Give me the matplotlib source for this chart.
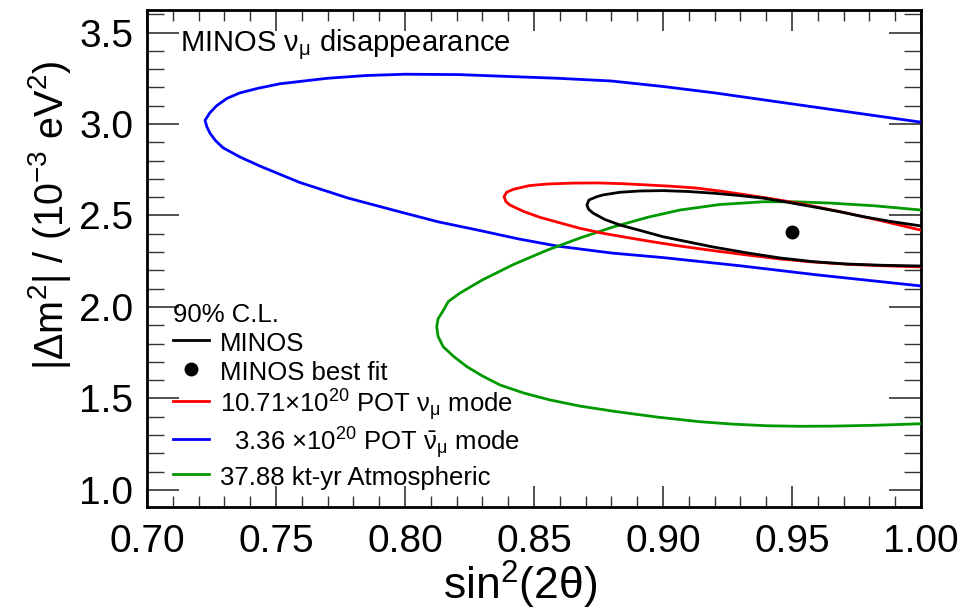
import numpy as np
import matplotlib
matplotlib.use("Agg")
import matplotlib.pyplot as plt
from matplotlib.ticker import MultipleLocator, FormatStrFormatter

plt.rcParams['font.family'] = ['Liberation Sans', 'DejaVu Sans']
plt.rcParams['mathtext.fontset'] = 'custom'
plt.rcParams['mathtext.rm'] = 'Liberation Sans'
plt.rcParams['mathtext.it'] = 'Liberation Sans:italic'
plt.rcParams['mathtext.bf'] = 'Liberation Sans:bold'

# 90% C.L. contours (sin^2(2theta), dm^2 in 1e-3 eV^2)
# each goes from the upper edge exit, round the tip, to the lower edge exit
minos_x = [1.0, 0.988, 0.9775, 0.968, 0.958, 0.948, 0.9388, 0.929, 0.9194, 0.910,
           0.900, 0.891, 0.8833, 0.877, 0.8744, 0.8713, 0.8705, 0.8712, 0.8729,
           0.8775, 0.8833, 0.892, 0.900, 0.910, 0.9194, 0.932, 0.9453, 0.958,
           0.971, 0.985, 1.0]
minos_y = [2.443, 2.468, 2.494, 2.522, 2.548, 2.573, 2.595, 2.61, 2.622, 2.631,
           2.636, 2.634, 2.627, 2.613, 2.603, 2.585, 2.557, 2.534, 2.513,
           2.478, 2.448, 2.415, 2.384, 2.355, 2.328, 2.297, 2.268, 2.248,
           2.235, 2.228, 2.224]

numu_x = [1.0, 0.985, 0.971, 0.961, 0.9519, 0.942, 0.9326, 0.923, 0.913, 0.903,
          0.8938, 0.884, 0.8744, 0.865, 0.855, 0.848, 0.842, 0.8394, 0.8384,
          0.8391, 0.8407, 0.846, 0.8523, 0.86, 0.8678, 0.877, 0.8872, 0.897,
          0.9066, 0.92, 0.9326, 0.945, 0.958, 0.972, 0.986, 1.0]
numu_y = [2.42, 2.47, 2.514, 2.543, 2.568, 2.592, 2.612, 2.632, 2.65, 2.66,
          2.667, 2.674, 2.678, 2.677, 2.672, 2.663, 2.643, 2.627, 2.603,
          2.576, 2.557, 2.522, 2.49, 2.46, 2.43, 2.402, 2.377, 2.354,
          2.333, 2.307, 2.284, 2.263, 2.246, 2.233, 2.225, 2.219]

nubar_x = [1.0, 0.98, 0.96, 0.94, 0.92, 0.90, 0.88, 0.859, 0.8395, 0.821, 0.80,
           0.785, 0.770, 0.7516, 0.743, 0.736, 0.731, 0.727, 0.7243, 0.7225,
           0.7232, 0.7244, 0.7265, 0.7295, 0.736, 0.7438, 0.7593, 0.778, 0.798,
           0.813, 0.829, 0.844, 0.859, 0.88, 0.90, 0.93, 0.96, 1.0]
nubar_y = [3.01, 3.05, 3.09, 3.13, 3.17, 3.205, 3.235, 3.25, 3.26, 3.27, 3.272,
           3.265, 3.25, 3.22, 3.195, 3.17, 3.14, 3.10, 3.06, 3.02,
           2.985, 2.95, 2.91, 2.87, 2.82, 2.77, 2.68, 2.595, 2.52,
           2.465, 2.418, 2.372, 2.333, 2.295, 2.27, 2.225, 2.175, 2.115]

atm_x = [1.0, 0.982, 0.9647, 0.951, 0.9388, 0.922, 0.9066, 0.894, 0.8806, 0.868,
         0.855, 0.842, 0.830, 0.8213, 0.8168, 0.8148, 0.8128, 0.8123, 0.8128,
         0.8148, 0.819, 0.824, 0.830, 0.8368, 0.846, 0.8562, 0.868, 0.882,
         0.898, 0.9143, 0.927, 0.9403, 0.953, 0.9659, 0.983, 1.0]
atm_y = [2.53, 2.553, 2.568, 2.575, 2.575, 2.56, 2.53, 2.49, 2.437, 2.378,
         2.31, 2.232, 2.148, 2.076, 2.03, 1.98, 1.935, 1.892, 1.84,
         1.783, 1.728, 1.674, 1.623, 1.574, 1.53, 1.492, 1.458, 1.428,
         1.398, 1.373, 1.36, 1.351, 1.348, 1.349, 1.354, 1.362]

best_x = [0.95]
best_y = [2.41]

labels = ["MINOS", "MINOS best fit",
          r"10.71$\times$10$^{20}$ POT ν$_\mathrm{μ}$ mode",
          r"  3.36 $\times$10$^{20}$ POT $\bar{\mathrm{ν}}_\mathrm{μ}$ mode",
          "37.88 kt-yr Atmospheric"]

fig = plt.figure(figsize=(9.63, 6.14), dpi=100)
ax = fig.add_axes([147 / 963, 107 / 614, 774 / 963, 497 / 614])

lw = 2.0
l_minos, = ax.plot(minos_x, minos_y, color='black', lw=lw, zorder=5)
l_numu, = ax.plot(numu_x, numu_y, color='#ff0000', lw=lw, zorder=4)
l_nubar, = ax.plot(nubar_x, nubar_y, color='#0000ff', lw=lw, zorder=3)
l_atm, = ax.plot(atm_x, atm_y, color='#009900', lw=lw, zorder=3)
l_best, = ax.plot(best_x, best_y, 'o', color='black', ms=9, zorder=6)

ax.set_xlim(0.70, 1.00)
ax.set_ylim(0.907, 3.623)

ax.xaxis.set_major_locator(MultipleLocator(0.05))
ax.xaxis.set_minor_locator(MultipleLocator(0.01))
ax.yaxis.set_major_locator(MultipleLocator(0.5))
ax.yaxis.set_minor_locator(MultipleLocator(0.1))
ax.xaxis.set_major_formatter(FormatStrFormatter('%.2f'))
ax.yaxis.set_major_formatter(FormatStrFormatter('%.1f'))

ax.tick_params(which='both', direction='in', top=True, right=True, color='#333333')
ax.tick_params(axis='x', which='major', length=15, width=1.2, labelsize=28, pad=12)
ax.tick_params(axis='x', which='minor', length=8, width=1.0)
ax.tick_params(axis='y', which='major', length=23, width=1.2, labelsize=28, pad=10)
ax.tick_params(axis='y', which='minor', length=12, width=1.0)
for s in ax.spines.values():
    s.set_linewidth(2.0)

ax.set_xlabel(r"sin$^{2}$(2θ)", fontsize=32, va='center', ha='center')
ax.xaxis.set_label_coords(0.482, -0.156)
ax.set_ylabel(r"|Δm$^{2}$| / (10$^{-3}$ eV$^{2}$)", fontsize=28.5, va='center', ha='center')
ax.yaxis.set_label_coords(-0.1266, 0.5875)

ax.text(0.0426, 0.9296, r"MINOS ν$_\mathrm{μ}$ disappearance", transform=ax.transAxes,
        fontsize=21, ha='left', va='center')

leg = ax.legend([l_minos, l_best, l_numu, l_nubar, l_atm], labels,
                title="90% C.L.", loc='lower left',
                bbox_to_anchor=(0.034, 0.035), frameon=False, fontsize=18.5,
                title_fontsize=18.5, handlelength=1.4, handletextpad=0.4,
                handleheight=1.2, labelspacing=0.08, borderpad=0,
                borderaxespad=0, alignment='left')

fig.savefig("out.png", dpi=100)
